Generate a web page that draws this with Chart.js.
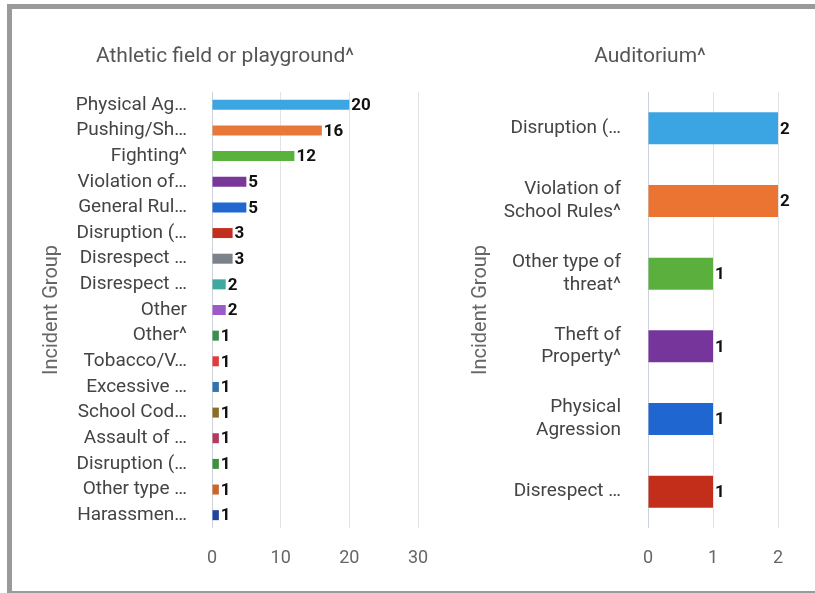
<!DOCTYPE html>
<html>
<head>
<meta charset="utf-8">
<script src="https://cdn.jsdelivr.net/npm/chart.js@4"></script>
<style>
  html, body { margin: 0; padding: 0; background: #fff; overflow: hidden; }
  body { width: 815px; height: 593px; position: relative; font-family: Roboto, sans-serif; }
  #frame { position: absolute; left: 7px; top: 4px; width: 900px; height: 582px; border: 5px solid #9a9a9a; }
  .box { position: absolute; }
  #left { left: 20px; top: 30px; width: 410px; height: 545px; }
  #right { left: 440px; top: 30px; width: 420px; height: 545px; }
</style>
</head>
<body>
<div id="frame"></div>
<div class="box" id="left"><canvas id="chart-left"></canvas></div>
<div class="box" id="right"><canvas id="chart-right"></canvas></div>
<script>
// --- data ---
const fieldTitle = 'Athletic field or playground^';
const fieldLabels = ['Physical Ag…', 'Pushing/Sh…', 'Fighting^', 'Violation of…', 'General Rul…',
  'Disruption (…', 'Disrespect …', 'Disrespect …', 'Other', 'Other^', 'Tobacco/V…', 'Excessive …',
  'School Cod…', 'Assault of …', 'Disruption (…', 'Other type …', 'Harassmen…'];
const fieldValues = [20, 16, 12, 5, 5, 3, 3, 2, 2, 1, 1, 1, 1, 1, 1, 1, 1];
const fieldColors = ['#3ca6e3', '#e9773a', '#58b23c', '#7a3699', '#2167d1', '#c2301d', '#7b8289',
  '#3ea99f', '#9c5bc8', '#3b8e4e', '#e33b3b', '#2f74ae', '#8c6e22', '#b23a5c', '#3f8f3f', '#c8662c', '#21459b'];
const fieldTicks = [0, 10, 20, 30];

const audTitle = 'Auditorium^';
const audLabels = ['Disruption (…', ['Violation of', 'School Rules^'], ['Other type of', 'threat^'],
  ['Theft of', 'Property^'], ['Physical', 'Agression'], 'Disrespect …'];
const audValues = [2, 2, 1, 1, 1, 1];
const audColors = ['#3ba5e4', '#ec7433', '#5bb03d', '#75359b', '#1f66d0', '#c32e1b'];
const audTicks = [0, 1, 2];

const axisTitle = 'Incident Group';

// value at the end of every bar
const valueLabels = {
  id: 'valueLabels',
  afterDatasetsDraw(chart) {
    const ctx = chart.ctx;
    const ds = chart.data.datasets[0];
    ctx.save();
    ctx.font = 'bold 17px Roboto';
    ctx.fillStyle = '#111';
    ctx.textBaseline = 'middle';
    chart.getDatasetMeta(0).data.forEach((bar, i) => {
      ctx.fillText(ds.data[i], bar.x + 2, bar.y + 1);
    });
    ctx.restore();
  }
};

// chart title, centred at a given x (the built-in one centres on the whole box)
const panelTitle = {
  id: 'panelTitle',
  afterDraw(chart, args, opts) {
    const ctx = chart.ctx;
    ctx.save();
    ctx.font = '21px Roboto';
    ctx.fillStyle = '#555';
    ctx.textAlign = 'center';
    ctx.textBaseline = 'middle';
    ctx.fillText(opts.text, opts.x, opts.y);
    ctx.restore();
  }
};

function barChart(id, cfg) {
  return new Chart(document.getElementById(id), {
    type: 'bar',
    data: {
      labels: cfg.labels,
      datasets: [{
        data: cfg.values,
        backgroundColor: cfg.colors,
        categoryPercentage: 1,
        barPercentage: cfg.barPct,
      }]
    },
    plugins: [valueLabels, panelTitle],
    options: {
      indexAxis: 'y',
      responsive: true,
      maintainAspectRatio: false,
      animation: false,
      layout: { padding: { left: 0, right: cfg.padRight, top: 62, bottom: 0 } },
      plugins: {
        legend: { display: false },
        tooltip: { enabled: false },
        panelTitle: { text: cfg.title, x: cfg.titleX, y: 27 },
      },
      scales: {
        x: {
          min: 0,
          max: cfg.ticks[cfg.ticks.length - 1],
          afterBuildTicks: (s) => { s.ticks = cfg.ticks.map(v => ({ value: v })); },
          afterFit: (s) => { s.height = 47; s.paddingLeft = 0; s.paddingRight = 0; },
          grid: {
            color: (c) => c.index === 0 ? '#ccd2dc' : '#e3e3e3',
            drawTicks: false,
          },
          border: { display: false },
          ticks: {
            padding: 20,
            color: '#666',
            font: { family: 'Roboto', size: 18 },
          }
        },
        y: {
          afterFit: (s) => { s.width = cfg.axisWidth; },
          grid: { display: false },
          border: { display: false },
          ticks: {
            autoSkip: false,
            padding: cfg.tickPad,
            color: '#444',
            font: { family: 'Roboto', size: 19 },
          },
          title: {
            display: true,
            text: axisTitle,
            color: '#666',
            font: { family: 'Roboto', size: 20 },
            padding: { top: cfg.titlePad, bottom: 0 },
          }
        }
      }
    }
  });
}

barChart('chart-left', {
  title: fieldTitle, labels: fieldLabels, values: fieldValues, colors: fieldColors,
  ticks: fieldTicks, barPct: 0.39, padRight: 12, axisWidth: 192, tickPad: 17, titlePad: 20, titleX: 205,
});

barChart('chart-right', {
  title: audTitle, labels: audLabels, values: audValues, colors: audColors,
  ticks: audTicks, barPct: 0.44, padRight: 82, axisWidth: 208, tickPad: 19, titlePad: 29, titleX: 210,
});
</script>
</body>
</html>
